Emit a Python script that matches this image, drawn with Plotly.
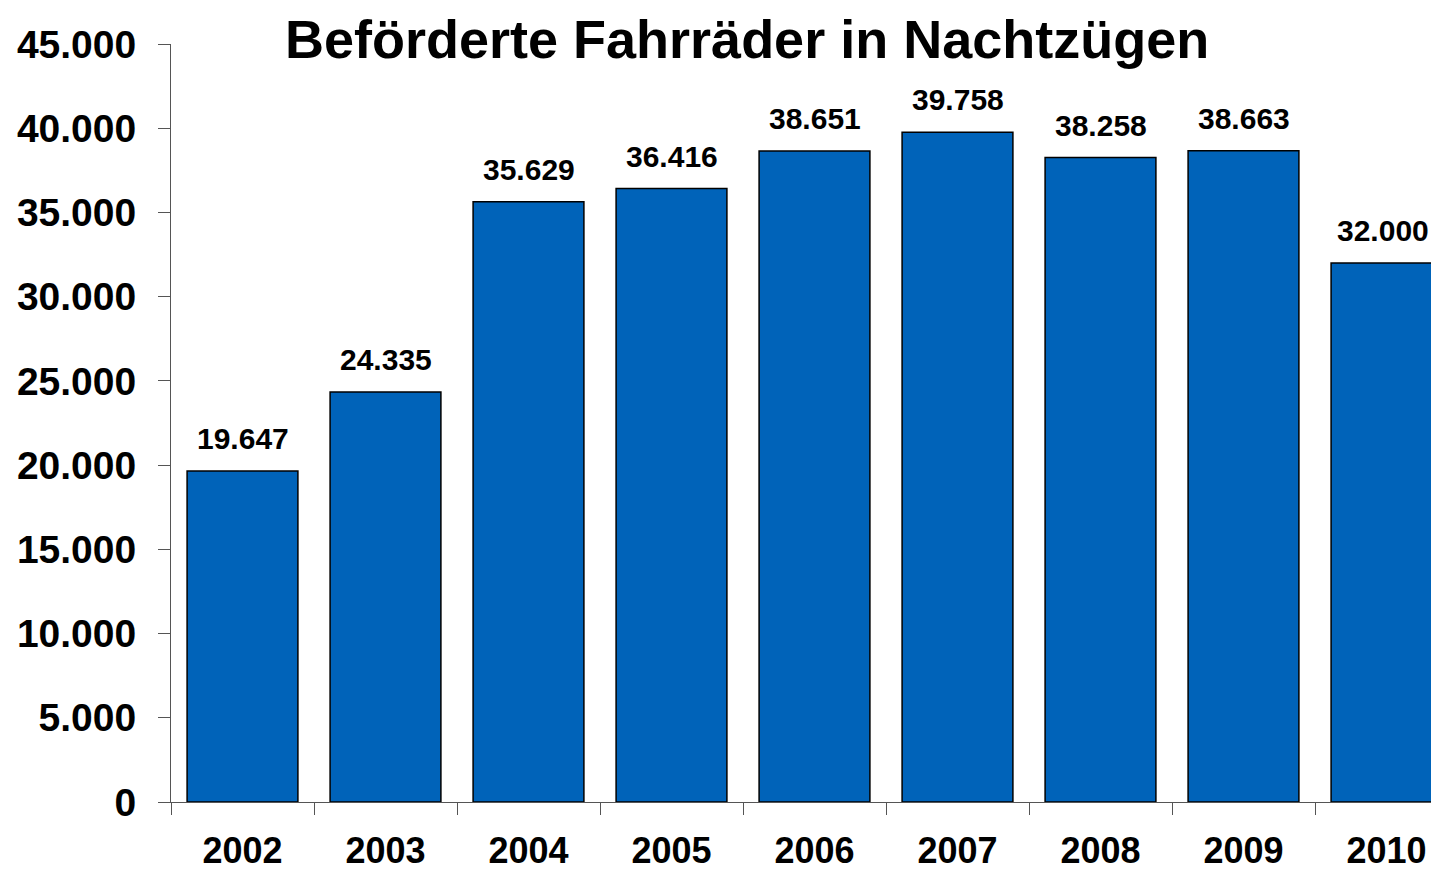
import plotly.graph_objects as go

years = ["2002", "2003", "2004", "2005", "2006", "2007", "2008", "2009", "2010"]
values = [19647, 24335, 35629, 36416, 38651, 39758, 38258, 38663, 32000]
y_ticks = [0, 5000, 10000, 15000, 20000, 25000, 30000, 35000, 40000, 45000]
title_text = "Beförderte Fahrräder in Nachtzügen"

FONT = "Liberation Sans, Arial, sans-serif"

# page has an 8px body margin; compensate so the plot lands where the reference has it
OFF = 8
W, H = 1439 - OFF, 875 - OFF
L, T = 171 - OFF, 44 - OFF
B = H - (802 - OFF)
plot_w = W - L
plot_h = H - T - B

fig = go.Figure()
fig.add_trace(go.Bar(
    x=years, y=values,
    width=0.775,
    marker=dict(color="#0063B9", line=dict(color="black", width=1.5)),
    hoverinfo="x+y",
))

annotations = []
n = len(values)
for i, v in enumerate(values):
    annotations.append(dict(
        x=i, y=v, xref="x", yref="y",
        text=f"{v:,d}".replace(",", "."),
        showarrow=False, yanchor="bottom", yshift=14,
        xshift=-4 if i == n - 1 else 0,   # keep the last label inside the visible page
        font=dict(family=FONT, size=30, color="black", weight="bold"),
    ))
annotations.append(dict(
    x=(747 - 171) / plot_w, y=(802 - 39) / plot_h, xref="paper", yref="paper",
    text=title_text, showarrow=False, xanchor="center", yanchor="middle",
    font=dict(family=FONT, size=54, color="black", weight="bold"),
))

cat_px = 143.0
fig.update_layout(
    width=W, height=H,
    margin=dict(l=L, r=0, t=T, b=B, pad=0),
    paper_bgcolor="white", plot_bgcolor="white",
    separators=",.",
    showlegend=False,
    annotations=annotations,
    xaxis=dict(
        type="category",
        automargin=False,
        range=[-0.5, -0.5 + plot_w / cat_px],
        showline=True, linecolor="#555555", linewidth=1,
        ticks="outside", ticklen=12, tickcolor="#555555", tickwidth=1,
        tickson="boundaries",
        showgrid=False, zeroline=False,
        tickfont=dict(family=FONT, size=36, color="black", weight="bold"),
        ticklabelstandoff=17,
    ),
    yaxis=dict(
        automargin=False,
        range=[0, 45000],
        tickvals=y_ticks,
        tickformat=",d",
        showline=True, linecolor="#555555", linewidth=1,
        ticks="outside", ticklen=12, tickcolor="#555555", tickwidth=1,
        showgrid=False, zeroline=False,
        tickfont=dict(family=FONT, size=39, color="black", weight="bold"),
        ticklabelstandoff=14,
    ),
)

fig.write_html("out.html")
